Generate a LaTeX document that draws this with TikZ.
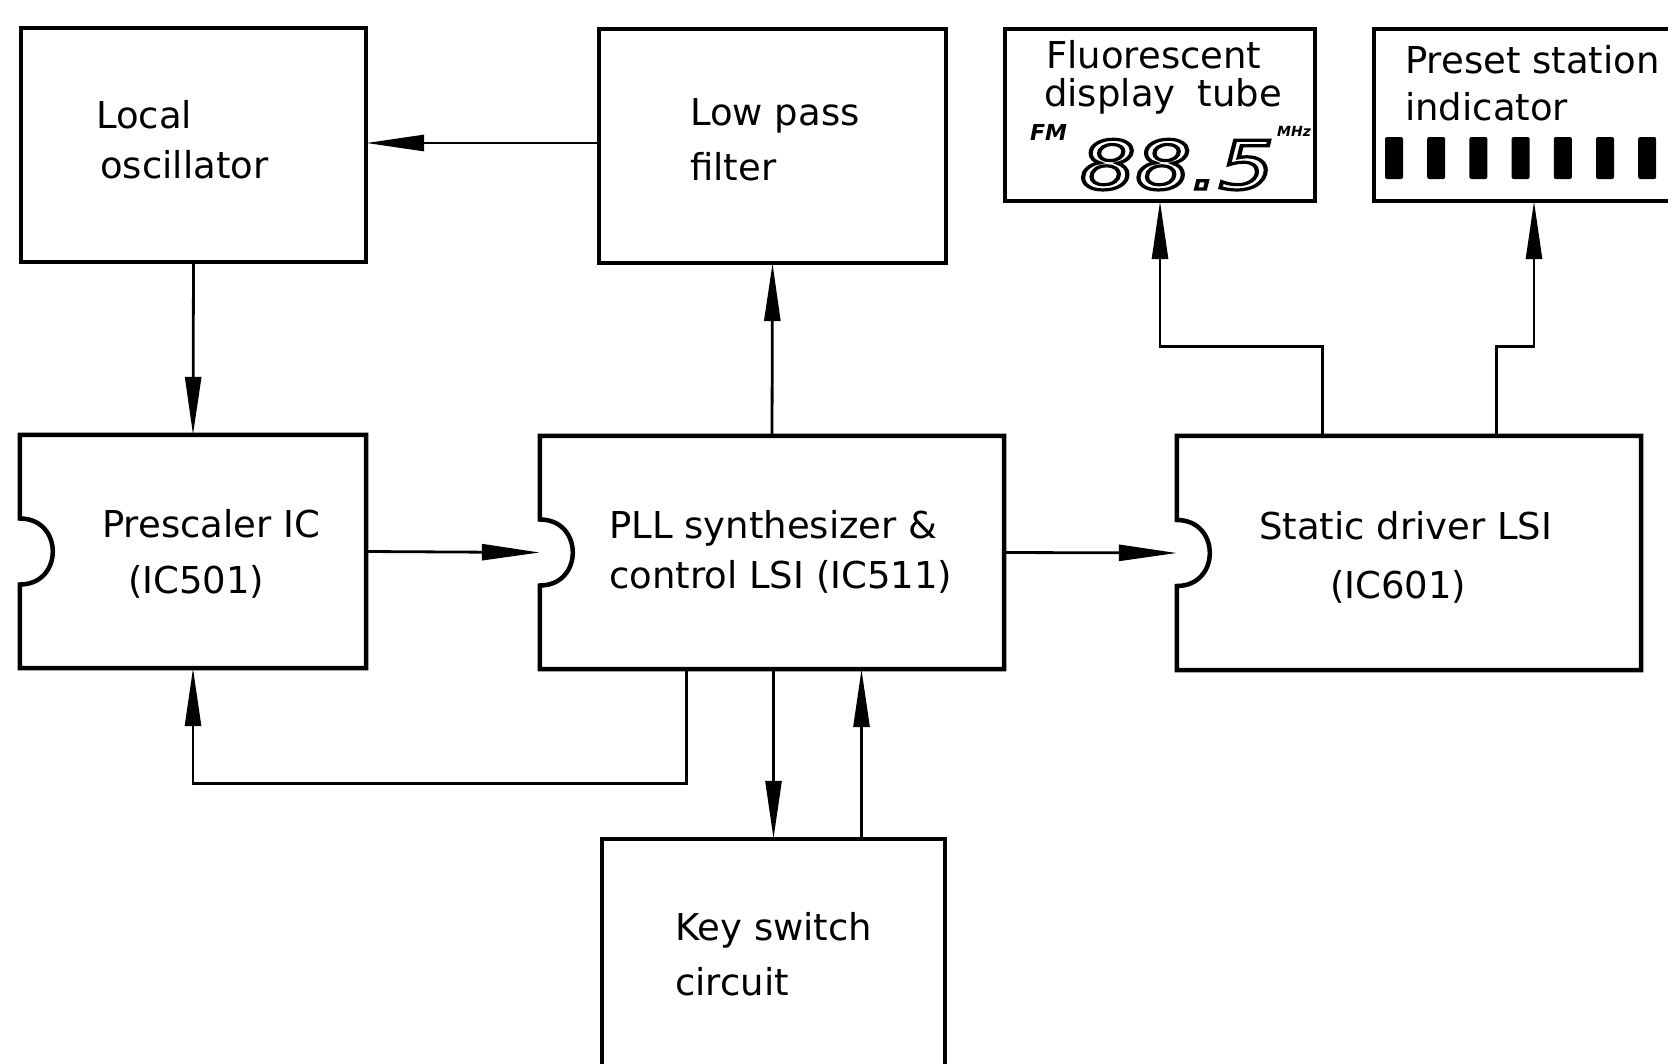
\documentclass[tikz,border=0pt]{standalone}
\usepackage{fontspec}
\setmainfont{DejaVu Sans}
\usetikzlibrary{arrows.meta,calc,fit}
\tikzset{
  blk/.style={draw=none, inner sep=0pt},
  boxln/.style={line width=4.5pt, line join=miter},
  conn/.style={line width=2.8pt},
  arr/.style={conn, -{Triangle[length=58pt,width=16pt]}},
  lbl/.style={font=\fontsize{37}{44}\selectfont, inner sep=0pt},
  fmlbl/.style={font=\fontsize{22}{24}\selectfont\bfseries\itshape, inner sep=0pt},
  mhzlbl/.style={font=\fontsize{14}{16}\selectfont\bfseries\itshape, inner sep=0pt}
}
\begin{document}
\begin{tikzpicture}[x=1pt,y=-1pt]
\useasboundingbox (0,0) rectangle (1668,1063);
\clip (0,0) rectangle (1668,1063);

% ---- boxes ----
\node[blk, fit={(21,28) (366,262)}] (lo) {};
\node[blk, fit={(599,29) (946,263)}] (lpf) {};
\node[blk, fit={(1005,29) (1315,201)}] (fl) {};
\node[blk, fit={(1374,29) (1694,201)}] (psi) {};
\node[blk, fit={(20,435) (366,668)}] (pre) {};
\node[blk, fit={(540,436) (1004,669)}] (pll) {};
\node[blk, fit={(1177,436) (1641,670)}] (sta) {};
\node[blk, fit={(602,839) (945,1100)}] (key) {};

\draw[boxln] (lo.north west) rectangle (lo.south east);
\draw[boxln] (lpf.north west) rectangle (lpf.south east);
\draw[boxln] (fl.north west) rectangle (fl.south east);
\draw[boxln] (psi.north west) rectangle (psi.south east);
\draw[boxln] (key.north west) rectangle (key.south east);

\foreach \b in {pre,pll,sta}{
  \draw[boxln] ($(\b.west)+(0,-33)$) -- (\b.north west) -- (\b.north east)
    -- (\b.south east) -- (\b.south west) -- ($(\b.west)+(0,33)$)
    .. controls +(44,0) and +(44,0) .. ($(\b.west)+(0,-33)$) -- cycle;
}

% ---- texts ----
\node[lbl, anchor=base west] (lo1) at (96,128) {Local};
\node[lbl, anchor=base west] (lo2) at (100,178) {oscillator};
\node[lbl, anchor=base west] (lp1) at (690,125) {Low pass};
\node[lbl, anchor=base west] (lp2) at (690,180) {filter};
\node[lbl, anchor=base west] (fl1) at (1046,68) {Fluorescent};
\node[lbl, anchor=base west] (fl2) at (1044,106) {display\hspace{0.6em}tube};
\node[fmlbl, anchor=base west] (fm) at (1030,140) {FM};
\node[inner sep=0pt, anchor=base west, font=\fontsize{67}{72}\selectfont\itshape] (freq) at (1080,189)
  {\scalebox{1.3}[1]{\special{pdf:literal direct 1 Tr 3.2 w}88.5\special{pdf:literal direct 0 Tr}}};
\node[mhzlbl, anchor=base west] (mhz) at (1277,136) {MHz};
\node[lbl, anchor=base west] (ps1) at (1405,73) {Preset station};
\node[lbl, anchor=base west] (ps2) at (1405,120) {indicator};
\foreach \i in {0,...,6}{
  \fill[rounded corners=2pt] ({1385+42.2*\i},137) rectangle ++(18,42);
}
\node[lbl, anchor=base west] (pr1) at (102,537) {Prescaler IC};
\node[lbl, anchor=base west] (pr2) at (128,593) {(IC501)};
\node[lbl, anchor=base west] (pl1) at (609,538) {PLL synthesizer \&};
\node[lbl, anchor=base west] (pl2) at (609,588) {control LSI (IC511)};
\node[lbl, anchor=base west] (st1) at (1259,539) {Static driver LSI};
\node[lbl, anchor=base west] (st2) at (1330,598) {(IC601)};
\node[lbl, anchor=base west] (ke1) at (675,940) {Key switch};
\node[lbl, anchor=base west] (ke2) at (675,995) {circuit};

% ---- connectors ----
\draw[arr] (lpf.west |- 0,143) -- (lo.east |- 0,143);
\draw[arr] (lo.south) -- (pre.north);
\draw[arr] (pre.east) -- (pll.west);
\draw[arr] (pll.north) -- (lpf.south);
\draw[arr] (pll.east) -- (sta.west);
\coordinate (fbs) at ($(pll.south west)+(147,0)$);
\draw[arr] (fbs) -- ++(0,114) -| (pre.south);
\draw[arr] (pll.south -| key.north) -- (key.north);
\coordinate (kup) at ($(key.north)+(88,0)$);
\draw[arr] (kup) -- (kup |- pll.south);
\coordinate (sfl) at ($(sta.north west)+(146,0)$);
\draw[arr] (sfl) -- ++(0,-89) -| (fl.south);
\coordinate (sps) at ($(sta.north west)+(320,0)$);
\draw[arr] (sps) -- ++(0,-89) -| (psi.south);
\end{tikzpicture}
\end{document}
